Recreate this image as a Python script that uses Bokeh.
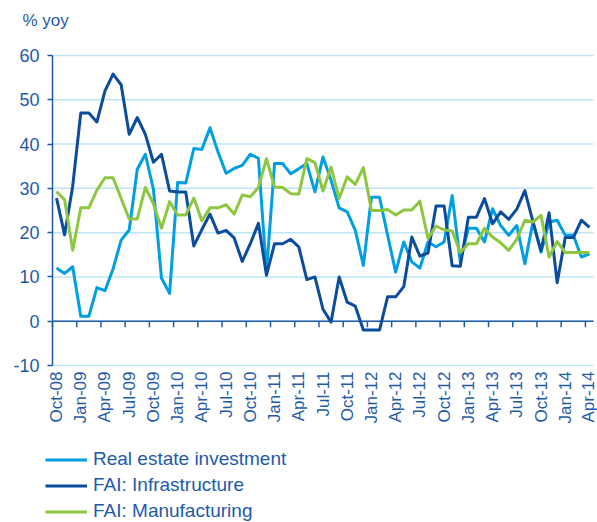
import math
import pandas as pd
from bokeh.plotting import figure
from bokeh.models import Range1d, FixedTicker, Legend, LegendItem, Title
from bokeh.embed import file_html
from bokeh.resources import INLINE

# Months Oct-08 ... Apr-14
months = pd.period_range("2008-10", "2014-04", freq="M").strftime("%b-%y").tolist()

real_estate = [12.0, 10.8, 12.3, 1.1, 1.1, 7.6, 6.9, 11.8, 18.3, 20.6,
               34.3, 37.7, 29.8, 9.7, 6.3, 31.3, 31.2, 39.0, 38.8, 43.7,
               38.2, 33.4, 34.5, 35.2, 37.7, 36.8, 11.0, 35.6, 35.6, 33.3,
               34.4, 35.6, 29.2, 37.1, 31.8, 25.6, 24.7, 20.5, 12.6, 28.0,
               28.0, 19.4, 11.1, 17.9, 13.4, 12.0, 17.9, 16.8, 17.9, 28.4,
               13.4, 21.0, 21.0, 17.9, 25.4, 21.6, 19.4, 21.6, 13.0, 22.4,
               15.6, 22.4, 22.8, 19.4, 19.4, 14.5, 15.2]

infrastructure = [27.8, 19.5, 30.5, 47.0, 47.0, 45.0, 52.0, 55.8, 53.4, 42.2,
                  46.0, 42.2, 35.9, 37.7, 29.4, 29.2, 29.2, 17.0, 20.7, 24.2,
                  19.9, 20.5, 18.8, 13.5, 17.5, 22.1, 10.4, 17.5, 17.5, 18.5,
                  16.8, 9.4, 10.0, 2.7, -0.2, 10.0, 4.3, 3.4, -2.0, -2.0,
                  -2.0, 5.5, 5.5, 7.8, 19.0, 14.7, 15.4, 26.0, 26.0, 12.5,
                  12.4, 23.5, 23.5, 27.7, 22.0, 24.7, 23.0, 25.3, 29.5, 22.5,
                  15.9, 24.5, 8.7, 18.9, 18.9, 22.8, 21.2]

manufacturing = [29.3, 27.4, 16.0, 25.6, 25.6, 29.6, 32.4, 32.4, 27.7, 23.1,
                 23.1, 30.2, 26.5, 21.0, 27.0, 24.0, 24.0, 27.8, 22.7, 25.6,
                 25.6, 26.3, 24.2, 28.5, 28.1, 30.2, 36.7, 30.3, 30.2, 28.8,
                 28.7, 36.7, 35.8, 29.4, 34.8, 27.7, 32.6, 30.9, 34.7, 25.0,
                 25.0, 25.2, 24.0, 25.1, 25.1, 27.1, 18.7, 21.5, 20.6, 20.4,
                 15.5, 17.5, 17.5, 21.0, 19.0, 17.7, 16.0, 18.5, 22.8, 22.4,
                 23.9, 14.5, 18.0, 15.5, 15.5, 15.5, 15.5]

tick_labels = ["Oct-08", "Jan-09", "Apr-09", "Jul-09", "Oct-09", "Jan-10", "Apr-10",
               "Jul-10", "Oct-10", "Jan-11", "Apr-11", "Jul-11", "Oct-11", "Jan-12",
               "Apr-12", "Jul-12", "Oct-12", "Jan-13", "Apr-13", "Jul-13", "Oct-13",
               "Jan-14", "Apr-14"]
y_ticks = [-10, 0, 10, 20, 30, 40, 50, 60]

series_names = ["Real estate investment", "FAI: Infrastructure", "FAI: Manufacturing"]

LIGHT = "#009FE3"
DARK = "#0B4C9D"
GREEN = "#8DC63F"
TXT = "#1E5AA8"
GRID = "#BFE4F6"
FONT = "Liberation Sans"

# layout (pixels): axes area x 52..593, y 55 (60) .. 365 (-10)
W, H, TOP = 597, 522, 32
AX_L, AX_R, AX_T, AX_B = 52, 593, 55, 365
n = len(months)
x = list(range(n))
x_lo, x_hi = -0.5, n - 0.5
ppx = (AX_R - AX_L) / (x_hi - x_lo)
ppy = (AX_B - AX_T) / (y_ticks[-1] - y_ticks[0])

p = figure(width=W, height=H, output_backend="svg", toolbar_location=None,
           x_range=Range1d(x_lo - AX_L / ppx, x_hi + (W - AX_R) / ppx),
           y_range=Range1d(y_ticks[0] - (H - AX_B) / ppy, y_ticks[-1] + (AX_T - TOP) / ppy),
           min_border_left=0, min_border_right=0, min_border_top=TOP, min_border_bottom=0)
p.outline_line_color = None
p.background_fill_color = "white"
p.border_fill_color = "white"
p.xgrid.visible = False
p.ygrid.visible = False

# horizontal gridlines over the category span
p.segment(x0=[x_lo] * len(y_ticks), y0=y_ticks, x1=[x_hi] * len(y_ticks), y1=y_ticks,
          line_color=GRID, line_width=1.5)

# value axis at the left edge of the first category
yax = p.yaxis[0]
yax.fixed_location = x_lo
yax.bounds = (y_ticks[0], y_ticks[-1])
yax.ticker = FixedTicker(ticks=y_ticks)
yax.major_label_overrides = {t: str(t) for t in y_ticks}
yax.axis_line_color = TXT
yax.axis_line_width = 1.5
yax.major_tick_line_color = TXT
yax.major_tick_line_width = 1.5
yax.major_tick_out = 5
yax.major_tick_in = 0
yax.minor_tick_line_color = None
yax.major_label_text_font = FONT
yax.major_label_text_font_size = "18px"
yax.major_label_text_color = TXT
yax.major_label_standoff = 8

# category labels, low (hung from the -10 line)
tick_pos = [months.index(l) for l in tick_labels]
xax = p.xaxis[0]
xax.fixed_location = y_ticks[0]
xax.ticker = FixedTicker(ticks=tick_pos)
xax.major_label_overrides = {t: l for t, l in zip(tick_pos, tick_labels)}
xax.major_label_orientation = math.pi / 2
xax.axis_line_color = None
xax.major_tick_line_color = None
xax.major_tick_out = 0
xax.major_tick_in = 0
xax.minor_tick_line_color = None
xax.major_label_text_font = FONT
xax.major_label_text_font_size = "17px"
xax.major_label_text_color = TXT
xax.major_label_standoff = 6

# category axis crossing at zero, with tick marks between categories
p.segment(x0=[x_lo], y0=[0], x1=[x_hi], y1=[0], line_color=TXT, line_width=1.5)
tick_len = 6 / ppy
bx = [t - 0.5 for t in tick_pos]
p.segment(x0=bx, y0=[0] * len(bx), x1=bx, y1=[-tick_len] * len(bx),
          line_color=TXT, line_width=1.5)

r1 = p.line(x, real_estate, line_color=LIGHT, line_width=3, line_join="round")
r2 = p.line(x, infrastructure, line_color=DARK, line_width=3, line_join="round")
r3 = p.line(x, manufacturing, line_color=GREEN, line_width=3, line_join="round")

legend = Legend(items=[LegendItem(label=series_names[0], renderers=[r1]),
                       LegendItem(label=series_names[1], renderers=[r2]),
                       LegendItem(label=series_names[2], renderers=[r3])],
                location=(45, 0), orientation="vertical",
                glyph_width=42, glyph_height=21, label_height=21, spacing=4,
                padding=0, margin=0, label_standoff=6,
                label_text_font=FONT, label_text_font_size="19px", label_text_color=TXT,
                border_line_color=None, background_fill_alpha=0)
p.add_layout(legend, "center")

title = Title(text="% yoy", align="left", offset=22, vertical_align="bottom", text_font=FONT,
              text_font_size="17px", text_font_style="normal", text_color=TXT, standoff=6)
p.add_layout(title, "above")

open("out.html", "w").write(file_html(p, INLINE))
